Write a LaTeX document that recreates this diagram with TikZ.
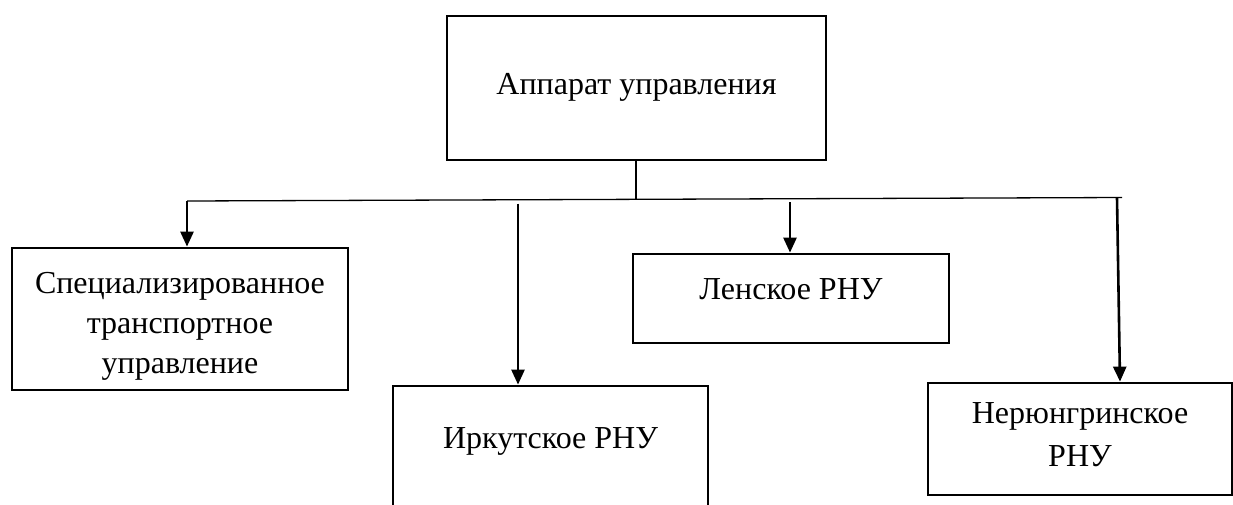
\documentclass[tikz,border=0pt]{standalone}
\usepackage{fontspec}
\setmainfont{Liberation Serif}
\usetikzlibrary{arrows.meta}

\begin{document}
\begin{tikzpicture}[x=1pt,y=-1pt]
            \tikzset{unit/.style = {shape=rectangle, draw, line width=2.8pt, inner sep=0pt}}
            \tikzset{caption/.style = {align=center, inner sep=0pt, font=\fontsize{32}{40}\selectfont}}
            \tikzset{bus/.style = {draw, line width=1.3pt, -}}
            \tikzset{feed/.style = {draw, line width=2.6pt, -{Triangle[length=15pt,width=13pt]}}}
            \useasboundingbox (0,0) rectangle (1233,504);
            % units
            \node[unit, minimum width=379pt, minimum height=144pt] (apparat) at (636.5,88) {};
            \node[unit, minimum width=336pt, minimum height=142pt] (spec) at (180,319) {};
            \node[unit, minimum width=315pt, minimum height=120pt] (irk) at (550.5,446) {};
            \node[unit, minimum width=316pt, minimum height=89pt] (lena) at (791,298.5) {};
            \node[unit, minimum width=304pt, minimum height=112pt] (ner) at (1080,439) {};
            % captions
            \node[caption, anchor=base] (apparat-t) at (636.5,94) {Аппарат управления};
            \node[caption, anchor=north] (spec-t) at (180,272) {Специализированное\\транспортное\\управление};
            \node[caption, anchor=base] (irk-t) at (550.5,448) {Иркутское РНУ};
            \node[caption, anchor=base] (lena-t) at (791,299) {Ленское РНУ};
            \node[caption, anchor=north, font=\fontsize{32}{43}\selectfont] (ner-t) at (1080,402) {Нерюнгринское\\РНУ};
            % bus line
            \coordinate (b0) at (636,199.5);
            \coordinate (b1) at (187,201);
            \coordinate (b2) at (518,200.5);
            \coordinate (b3) at (790,199);
            \coordinate (b4) at (1117,198);
            \draw[bus] (apparat.south -| b0) -- (b0);
            \draw[bus] (b1) -- (1122,197.5);
            % links
            \draw[feed] (b1) -- (b1 |- spec.north);
            \draw[feed] (b2) ++(0,3) -- (b2 |- irk.north);
            \draw[feed] (b3) ++(0,3) -- (b3 |- lena.north);
            \draw[feed] (b4) -- (1120,0 |- ner.north);
        \end{tikzpicture}
\end{document}
